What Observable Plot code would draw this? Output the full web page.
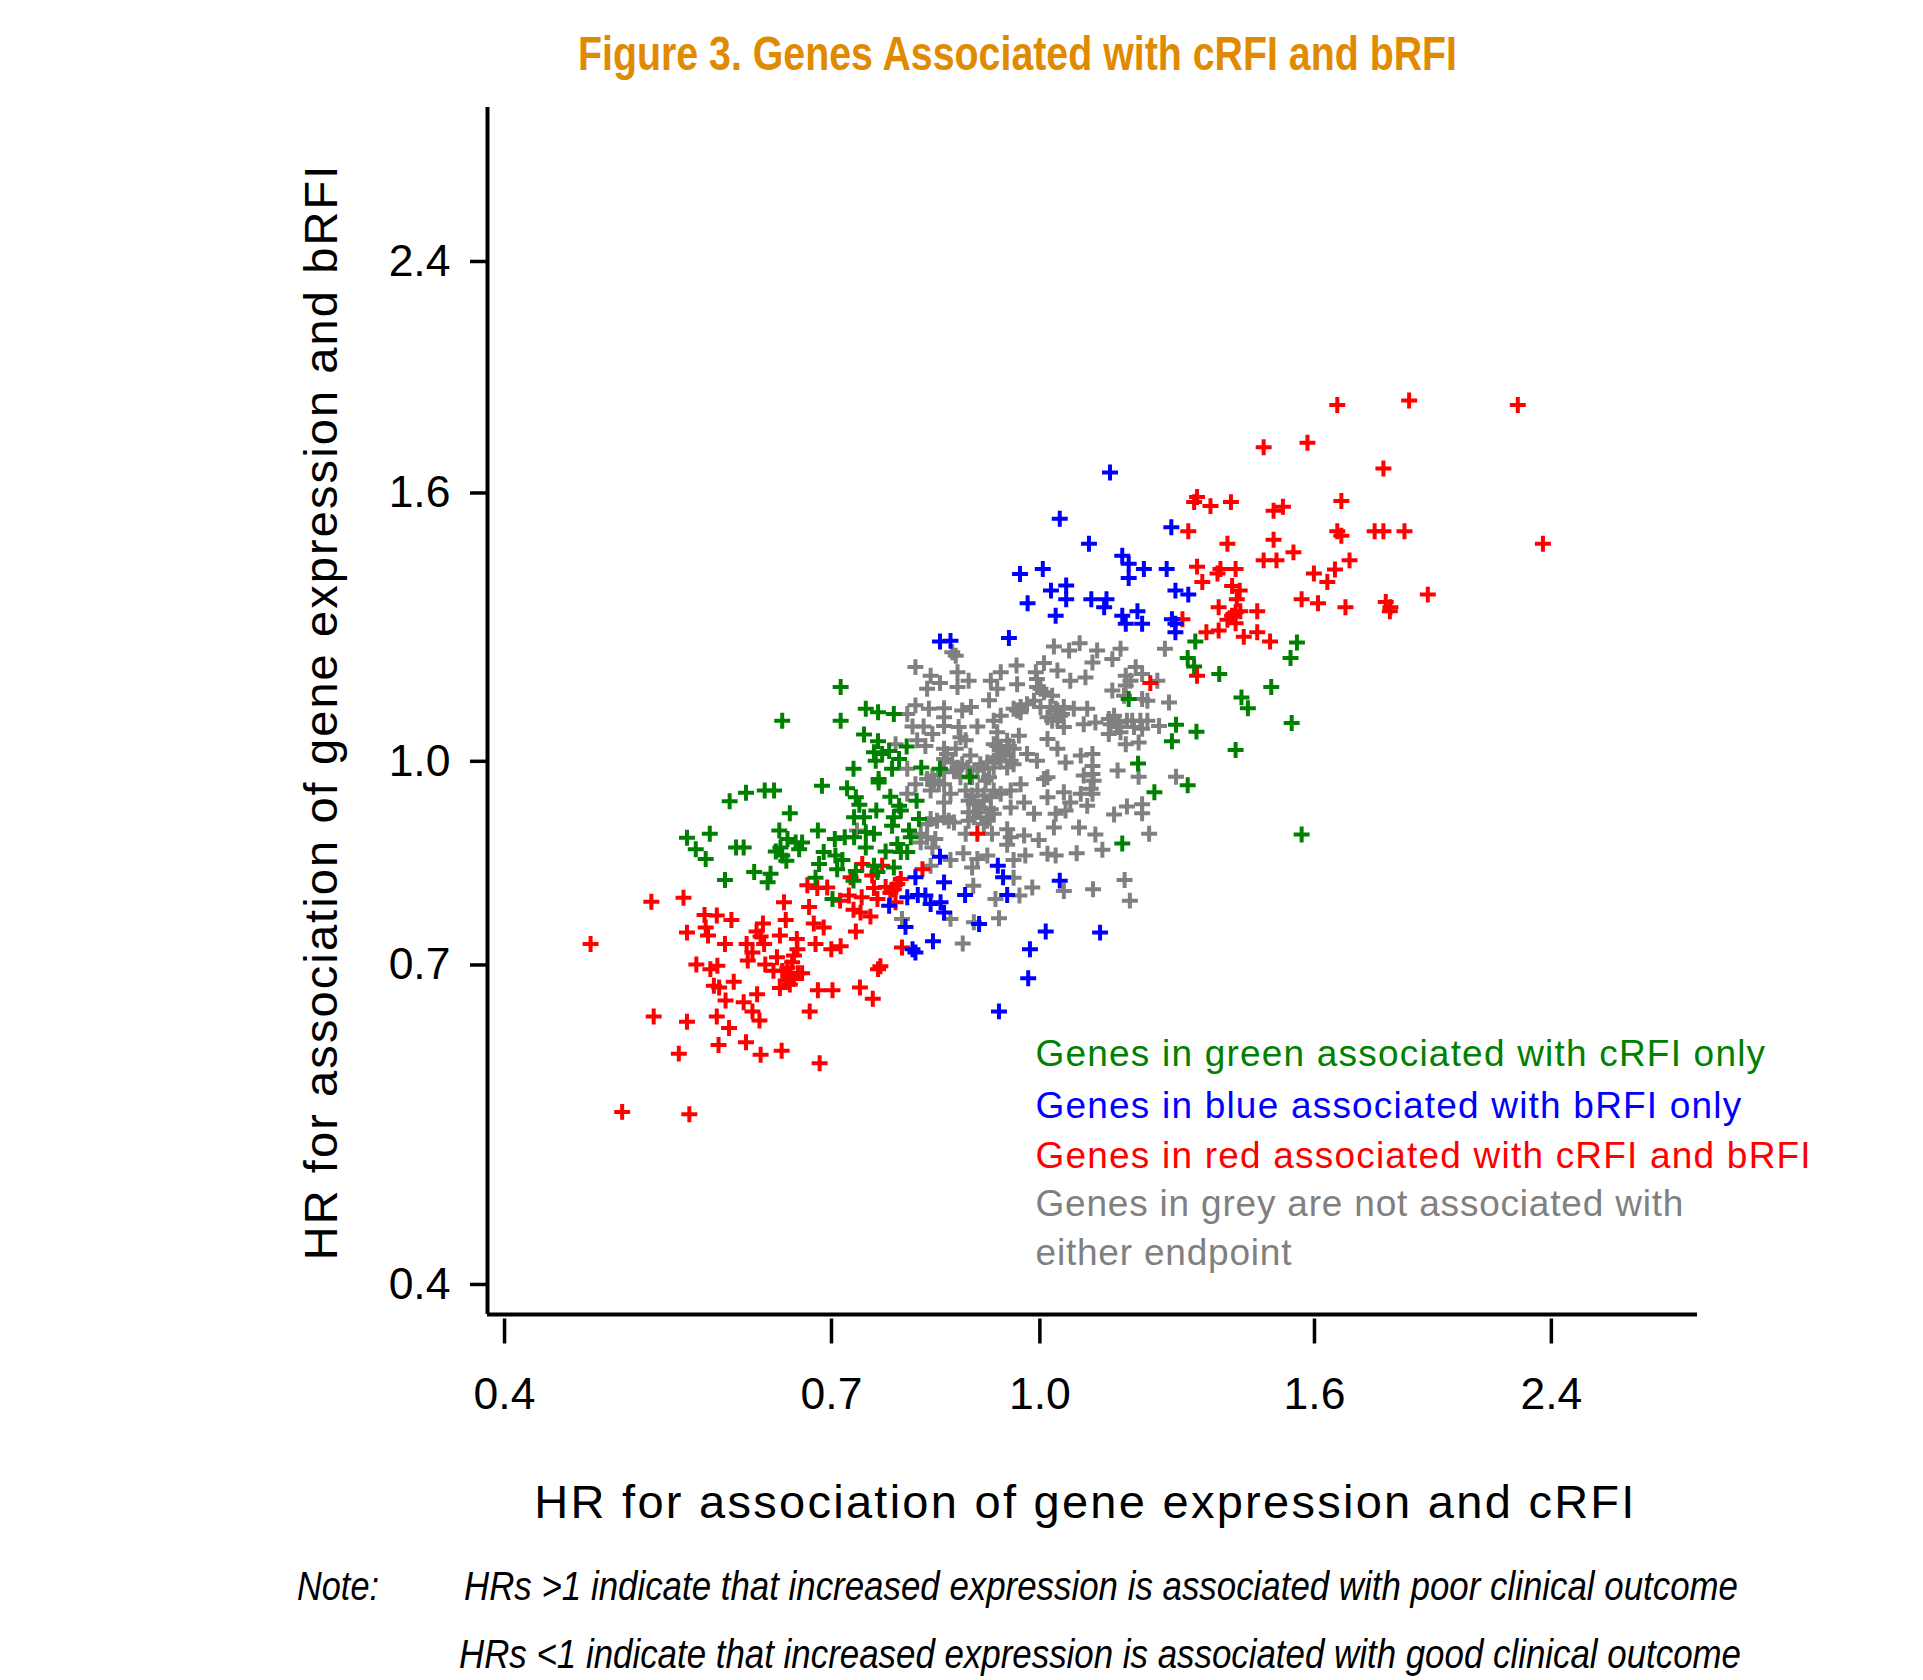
<!DOCTYPE html>
<html><head><meta charset="utf-8">
<script src="https://cdn.jsdelivr.net/npm/d3@7"></script>
<script src="https://cdn.jsdelivr.net/npm/@observablehq/plot@0.6"></script>
<style>
html,body{margin:0;padding:0;background:#fff;width:1923px;height:1680px;overflow:hidden}
#title{height:80px;width:1923px;position:relative}
#title span{position:absolute;left:578px;top:25px;font:bold 49px/56px "Liberation Sans",sans-serif;color:#E08A00;white-space:nowrap;transform-origin:left center}
#note{position:relative;height:140px;width:1923px;font:italic 40px/48px "Liberation Sans",sans-serif;color:#000;white-space:nowrap}
#note span{position:absolute;transform-origin:left center}
svg{display:block}
.legend-line text{letter-spacing:1.2px}
.legend-grey text{letter-spacing:0.8px}
.x-title text{letter-spacing:2.27px}
.y-title text{letter-spacing:2.09px}
</style></head><body>
<div id="title"><span data-w="879">Figure 3. Genes Associated with cRFI and bRFI</span></div>
<div id="chart"></div>
<div id="note"><span data-w="82" style="left:297px;top:22px">Note:</span><span data-w="1274" style="left:464px;top:22px">HRs &gt;1 indicate that increased expression is associated with poor clinical outcome</span><span data-w="1282" style="left:459px;top:90px">HRs &lt;1 indicate that increased expression is associated with good clinical outcome</span></div>
<script>
// Each gene: [log HR for cRFI, log HR for bRFI], natural log x 1000.
const greyGenes=[[24,201],[50,194],[68,207],[98,194],[138,197],[214,197],[124,179],[90,173],[7,172],[-40,168],[-144,185],[-150,191],[-213,165],[-187,150],[-141,156],[-171,137],[-193,127],[-141,130],[-122,141],[-84,141],[-67,156],[-39,135],[-73,127],[-87,107],[-7,156],[30,159],[52,141],[78,147],[1,127],[21,115],[164,165],[147,150],[175,153],[147,133],[124,124],[201,141],[184,106],[221,103],[144,115],[-213,98],[-190,92],[-164,93],[-133,89],[-118,95],[-227,83],[-164,77],[-218,61],[-199,61],[-164,62],[-139,60],[-107,61],[-136,42],[-184,48],[-210,37],[-127,37],[-247,30],[-196,27],[-164,22],[-144,22],[-119,10],[-164,4],[-67,80],[-79,71],[-39,89],[-22,100],[1,95],[30,89],[30,74],[13,77],[41,60],[58,92],[81,92],[75,65],[95,68],[118,74],[135,68],[158,71],[184,71],[204,62],[118,48],[147,30],[169,33],[175,57],[132,60],[13,39],[30,22],[44,-2],[-36,45],[-73,51],[-79,30],[-56,36],[-62,16],[-45,22],[-73,7],[-50,1],[-5,1],[-22,13],[-102,-5],[-79,-11],[-141,-11],[70,10],[90,13],[90,-8],[133,-16],[169,-27],[233,-27],[75,-25],[92,-34],[7,-31],[-33,-40],[13,-63],[41,-54],[90,-57],[70,-57],[52,-72],[81,-78],[-50,-51],[-87,-28],[-79,-51],[-107,-51],[-127,-51],[-67,-57],[-96,-69],[-113,-75],[-84,-84],[-27,-72],[-50,-81],[-153,-57],[-164,-72],[-181,-34],[-213,-40],[-227,-13],[-193,-31],[-227,-57],[-176,-104],[-193,-110],[-147,-107],[-122,-104],[-90,-104],[-113,-98],[-82,-127],[-127,-127],[-56,-119],[-50,-133],[-56,-146],[-27,-130],[-2,-138],[-10,-92],[24,-116],[27,-92],[44,-86],[67,-116],[95,-128],[127,-93],[149,-79],[175,-75],[175,-91],[187,-127],[107,-155],[63,-161],[13,-162],[27,-165],[-25,-165],[-45,-173],[-90,-165],[-107,-171],[-131,-161],[-153,-173],[-116,-186],[-187,-183],[-179,-136],[-204,-127],[-204,-142],[-313,-121],[-114,-218],[-45,-204],[-13,-221],[41,-227],[91,-224],[145,-208],[154,-244],[-35,-235],[-76,-241],[-70,-275],[-113,-282],[-153,-276],[-236,-276],[-132,-319],[-67,22],[-53,27],[-67,1],[-90,-2],[-96,-13],[-56,-11],[-116,-60],[-96,-60],[-102,-81],[-84,-63],[27,92],[38,83],[-5,130],[-33,95],[-10,106],[-164,-19],[-147,-16],[-187,-51],[-136,-28],[-124,-11],[-73,27],[-59,10],[-45,-5],[-79,1],[-107,-16],[-116,-28],[-93,-34],[-122,-69],[-90,-98],[-107,-89],[-79,-92],[-122,-89],[-184,-25],[-173,-40],[-164,-40],[-159,13],[-150,-2],[-133,-5],[7,121],[18,95],[41,95],[21,71],[35,80],[-5,144],[-187,-101],[-164,-98],[-156,-104],[-193,-133],[-184,-151],[-33,86],[-45,92],[127,80],[149,71],[161,60],[172,71],[138,51],[121,65],[175,109],[155,141],[90,-22],[87,-48],[13,-28],[-96,-110]];
const redGenes=[[-769,-320],[-665,-246],[-610,-239],[-574,-269],[-553,-270],[-528,-278],[-604,-300],[-572,-291],[-568,-305],[-539,-320],[-502,-320],[-492,-335],[-500,-349],[-474,-284],[-485,-298],[-478,-307],[-472,-320],[-445,-305],[-416,-311],[-435,-278],[-438,-247],[-395,-255],[-387,-284],[-370,-291],[-315,-298],[-384,-320],[-357,-329],[-341,-324],[-588,-356],[-564,-364],[-552,-358],[-470,-356],[-450,-343],[-421,-340],[-456,-367],[-441,-367],[-432,-361],[-427,-378],[-414,-371],[-435,-384],[-421,-381],[-428,-391],[-445,-397],[-407,-371],[-424,-352],[-415,-329],[-524,-386],[-558,-393],[-549,-396],[-538,-419],[-484,-408],[-507,-422],[-492,-438],[-480,-454],[-380,-401],[-355,-401],[-308,-396],[-286,-416],[-277,-364],[-273,-359],[-394,-438],[-661,-447],[-604,-456],[-553,-447],[-532,-467],[-550,-497],[-503,-492],[-478,-514],[-442,-507],[-618,-512],[-377,-529],[-715,-614],[-600,-618],[-398,-217],[-381,-222],[-364,-221],[-324,-203],[-304,-180],[-270,-183],[-287,-200],[-284,-222],[-264,-220],[-250,-224],[-238,-206],[-244,-215],[-256,-230],[-247,-247],[-201,-189],[-327,-235],[-342,-244],[-305,-238],[-278,-241],[-319,-260],[-307,-265],[-290,-272],[-236,-326],[-107,-127],[189,137],[509,624],[632,632],[818,624],[383,550],[458,558],[588,513],[516,456],[292,447],[327,454],[400,439],[416,446],[509,403],[516,395],[573,403],[588,403],[624,403],[861,381],[400,388],[321,381],[434,366],[383,352],[405,352],[530,352],[335,337],[309,337],[304,329],[469,329],[505,336],[492,314],[278,314],[329,307],[342,299],[337,284],[306,270],[448,284],[476,277],[523,270],[592,279],[600,270],[599,263],[664,292],[329,255],[321,248],[335,261],[343,263],[372,263],[335,242],[285,226],[306,229],[372,226],[349,218],[394,210],[264,454],[269,463],[254,403],[269,341],[244,249],[269,150]];
const greenGenes=[[-531,-70],[-503,-55],[-471,-51],[-455,-51],[-373,-43],[-330,-47],[-428,-91],[-315,-63],[-309,-76],[-276,-37],[-256,-62],[-211,-69],[-241,-78],[-238,-86],[-280,-86],[-318,-98],[-301,-98],[-207,-101],[-250,-98],[-253,-113],[-224,-121],[-380,-121],[-604,-134],[-565,-127],[-589,-154],[-572,-171],[-520,-151],[-507,-151],[-446,-121],[-432,-136],[-418,-142],[-407,-142],[-444,-151],[-452,-158],[-441,-165],[-434,-174],[-412,-154],[-351,-136],[-334,-133],[-318,-133],[-298,-124],[-284,-127],[-298,-151],[-370,-159],[-350,-165],[-338,-173],[-378,-180],[-347,-189],[-315,-192],[-319,-209],[-384,-204],[-284,-183],[-278,-194],[-250,-186],[-264,-158],[-244,-145],[-227,-159],[-238,-159],[-489,-194],[-461,-197],[-466,-212],[-539,-208],[-355,-241],[-341,130],[-341,71],[-441,71],[-298,92],[-277,86],[-250,83],[-301,47],[-277,35],[-228,26],[-284,16],[-270,13],[-258,18],[-281,1],[-241,4],[-319,-13],[-253,-13],[-203,-11],[-171,-13],[-120,-27],[-276,-31],[-221,-133],[152,109],[233,64],[226,35],[168,-4],[196,-54],[141,-144],[266,210],[440,208],[429,181],[253,181],[264,166],[307,153],[345,112],[356,93],[396,130],[431,67],[268,52],[335,20],[448,-128],[253,-42]];
const blueGenes=[[-171,210],[-153,211],[-53,216],[-171,-167],[-72,-183],[-63,-203],[-213,-203],[-164,-212],[-128,-234],[-56,-234],[34,-209],[-227,-238],[-209,-234],[-196,-235],[-187,-250],[-170,-247],[-164,-265],[-258,-253],[-230,-290],[-104,-285],[10,-298],[103,-300],[-183,-315],[-17,-329],[-218,-329],[-213,-335],[-20,-380],[-70,-438],[120,506],[34,425],[84,381],[225,410],[-34,328],[5,337],[141,360],[152,346],[178,337],[217,337],[152,321],[19,299],[45,308],[45,284],[-21,277],[88,284],[114,284],[110,270],[232,299],[254,292],[27,255],[141,255],[167,263],[175,241],[147,241],[226,249],[232,241],[232,226]];
const xTicks=[0.4,0.7,1.0,1.6,2.4];
const yTicks=[0.4,0.7,1.0,1.6,2.4];
const xDomain=[0.3885,3.082];
const yDomain=[0.3795,3.143];
const legendLines=["Genes in green associated with cRFI only","Genes in blue associated with bRFI only","Genes in red associated with cRFI and bRFI","Genes in grey are not associated with","either endpoint"];
const legendColors=["#008000","#0000ff","#ff0000","#808080","#808080"];
const xTitle="HR for association of gene expression and cRFI";
const yTitle="HR for association of gene expression and bRFI";

const hr=v=>Math.exp(v/1000);
const cloud=(genes,color)=>Plot.dot(genes,{x:d=>hr(d[0]),y:d=>hr(d[1]),symbol:"plus",r:5.2,stroke:color,strokeWidth:4});
const legendDy=[947,999,1049,1097,1146];

const chart=Plot.plot({
  width:1923,height:1460,marginLeft:487,marginRight:226,marginTop:27,marginBottom:226,
  style:{fontFamily:"'Liberation Sans',Arial,sans-serif",background:"#fff",color:"#000"},
  x:{type:"log",domain:xDomain},
  y:{type:"log",domain:yDomain},
  marks:[
    Plot.ruleX([xDomain[0]],{stroke:"#000",strokeWidth:4}),
    Plot.ruleY([yDomain[0]],{stroke:"#000",strokeWidth:4}),
    Plot.axisY({ticks:yTicks,tickFormat:d=>d.toFixed(1),label:null,tickSize:17,tickPadding:20,fontSize:44.5,strokeWidth:3.5,anchor:"left"}),
    Plot.axisX({ticks:xTicks,tickFormat:d=>d.toFixed(1),label:null,tickSize:25,tickPadding:33,fontSize:44.5,strokeWidth:3.5,anchor:"bottom",dy:4.5}),
    cloud(greyGenes,"#808080"),
    cloud(redGenes,"#ff0000"),
    cloud(greenGenes,"#008000"),
    cloud(blueGenes,"#0000ff"),
    ...legendLines.map((t,i)=>Plot.text([t],{frameAnchor:"top-left",dx:548,dy:legendDy[i],text:d=>d,fill:legendColors[i],fontSize:37,lineAnchor:"middle",textAnchor:"start",className:i>2?"legend-grey":"legend-line"})),
    Plot.text([xTitle],{frameAnchor:"bottom",dx:-7,dy:188,text:d=>d,fontSize:47,lineAnchor:"middle",className:"x-title"}),
    Plot.text([yTitle],{frameAnchor:"left",dx:-166,dy:1,text:d=>d,fontSize:47,rotate:-90,lineAnchor:"middle",textAnchor:"middle",className:"y-title"})
  ]
});
document.getElementById("chart").appendChild(chart);
document.querySelectorAll("span[data-w]").forEach(s=>{
  const natural=s.getBoundingClientRect().width;
  s.style.transform=`scaleX(${+s.dataset.w/natural})`;
});
</script>
</body></html>
